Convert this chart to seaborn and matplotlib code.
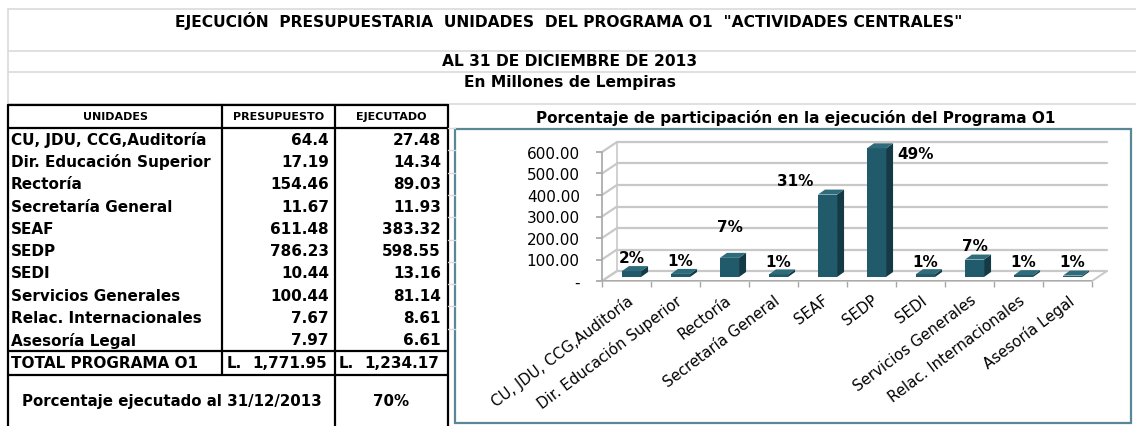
import numpy as np
import pandas as pd
import matplotlib
matplotlib.use("Agg")
import matplotlib.pyplot as plt
import seaborn as sns
from matplotlib.patches import Polygon, Rectangle

# ---------------- data ----------------
units = ["CU, JDU, CCG,Auditoría", "Dir. Educación Superior", "Rectoría",
         "Secretaría General", "SEAF", "SEDP", "SEDI", "Servicios Generales",
         "Relac. Internacionales", "Asesoría Legal"]
presupuesto = [64.4, 17.19, 154.46, 11.67, 611.48, 786.23, 10.44, 100.44, 7.67, 7.97]
ejecutado = [27.48, 14.34, 89.03, 11.93, 383.32, 598.55, 13.16, 81.14, 8.61, 6.61]
total_presupuesto = 1771.95
total_ejecutado = 1234.17
pct_ejecutado = "70%"
pct_labels = ["2%", "1%", "7%", "1%", "31%", "49%", "1%", "7%", "1%", "1%"]
y_ticks = [0, 100, 200, 300, 400, 500, 600]
y_tick_labels = ["-", "100.00", "200.00", "300.00", "400.00", "500.00", "600.00"]

title1 = 'EJECUCIÓN  PRESUPUESTARIA  UNIDADES  DEL PROGRAMA O1  "ACTIVIDADES CENTRALES"'
title2 = "AL 31 DE DICIEMBRE DE 2013"
title3 = "En Millones de Lempiras"
headers = ["UNIDADES", "PRESUPUESTO", "EJECUTADO"]
total_label = "TOTAL PROGRAMA O1"
pct_row_label = "Porcentaje ejecutado al 31/12/2013"
chart_title = "Porcentaje de participación en la ejecución del Programa O1"

# ---------------- layout / style ----------------
W, H = 1136, 427
FRONT = "#215A6A"
SIDE = "#143A45"
TOP = "#2E6C7C"
GRID = "#C8C8C8"
SHEET = "#DADADA"
FRAME = "#5A8795"
AXC = "#A6A6A6"

sns.set_theme(style="white")
plt.rcParams["font.family"] = ["DejaVu Sans"]
plt.rcParams["text.color"] = "black"
plt.rcParams["xtick.color"] = "black"
plt.rcParams["ytick.color"] = "black"
plt.rcParams["xtick.labelcolor"] = "black"
plt.rcParams["ytick.labelcolor"] = "black"

fig = plt.figure(figsize=(W / 100, H / 100), dpi=100)
fig.patch.set_facecolor("white")

bg = fig.add_axes([0, 0, 1, 1])
bg.set_xlim(0, W)
bg.set_ylim(H, 0)
bg.axis("off")

# spreadsheet gridlines
for yy in [10, 52, 73, 105]:
    bg.plot([8, W], [yy, yy], color=SHEET, lw=1.2)
bg.plot([8, 8], [10, 106], color=SHEET, lw=1.2)

# titles
bg.text(569, 21, title1, ha="center", va="center", fontsize=11.2, fontweight="bold", color="black")
bg.text(570, 62, title2, ha="center", va="center", fontsize=11.2, fontweight="bold", color="black")
bg.text(570, 83, title3, ha="center", va="center", fontsize=11.2, fontweight="bold", color="black")

# ---------------- table ----------------
x0, x1, x2, x3 = 8, 222, 335, 448
y_head_top, y_head_bot = 106, 129
row_h = 22.3
y_total_top = y_head_bot + row_h * len(units)
y_total_bot = y_total_top + 24
y_bottom = H

lw_b = 1.6
for yy in [y_head_top, y_head_bot, y_total_top, y_total_bot]:
    bg.plot([x0, x3], [yy, yy], color="black", lw=lw_b)
for xx in [x0, x2, x3]:
    bg.plot([xx, xx], [y_head_top, y_bottom], color="black", lw=lw_b)
bg.plot([x1, x1], [y_head_top, y_total_bot], color="black", lw=lw_b)

hc = (y_head_top + y_head_bot) / 2
for txt, cx in zip(headers, [(x0 + x1) / 2, (x1 + x2) / 2, (x2 + x3) / 2]):
    bg.text(cx, hc, txt, ha="center", va="center", fontsize=8, fontweight="bold", color="black")

FS = 11
for i, (u, p, e) in enumerate(zip(units, presupuesto, ejecutado)):
    yc = y_head_bot + row_h * (i + 0.5)
    bg.text(x0 + 3, yc, u, ha="left", va="center", fontsize=FS, fontweight="bold", color="black")
    bg.text(x2 - 6, yc, f"{p:g}", ha="right", va="center", fontsize=FS, fontweight="bold", color="black")
    bg.text(x3 - 7, yc, f"{e:g}", ha="right", va="center", fontsize=FS, fontweight="bold", color="black")
    bg.plot([x3, 455], [y_head_bot + row_h * i, y_head_bot + row_h * i], color=SHEET, lw=1)

tc = (y_total_top + y_total_bot) / 2
bg.text(x0 + 3, tc, total_label, ha="left", va="center", fontsize=FS, fontweight="bold", color="black")
bg.text(x1 + 5, tc, "L.", ha="left", va="center", fontsize=FS, fontweight="bold", color="black")
bg.text(x2 - 8, tc, f"{total_presupuesto:,.2f}", ha="right", va="center", fontsize=FS, fontweight="bold", color="black")
bg.text(x2 + 4, tc, "L.", ha="left", va="center", fontsize=FS, fontweight="bold", color="black")
bg.text(x3 - 9, tc, f"{total_ejecutado:,.2f}", ha="right", va="center", fontsize=FS, fontweight="bold", color="black")

pc = (y_total_bot + y_bottom) / 2
bg.text((x0 + x2) / 2, pc, pct_row_label, ha="center", va="center", fontsize=10.8, fontweight="bold", color="black")
bg.text((x2 + x3) / 2, pc, pct_ejecutado, ha="center", va="center", fontsize=10.8, fontweight="bold", color="black")

# ---------------- chart ----------------
bg.add_patch(Rectangle((455, 130), 1131 - 455, 424 - 130, fill=False, edgecolor=FRAME, lw=1.6))
bg.text(796, 118, chart_title, ha="center", va="center", fontsize=11, fontweight="bold", color="black")

ax_l, ax_r, ax_b, ax_t = 602, 1092, 282, 153
ax = fig.add_axes([ax_l / W, (H - ax_b) / H, (ax_r - ax_l) / W, (ax_b - ax_t) / H])
ax.patch.set_alpha(0)
df = pd.DataFrame({"unit": units, "ejecutado": ejecutado})
sns.barplot(data=df, x="unit", y="ejecutado", color=FRONT, saturation=1, width=0.39,
            edgecolor="none", ax=ax, zorder=3)
ax.set_xlim(-0.5, len(units) - 0.5)
ax.set_ylim(0, 600)

sx = len(units) / (ax_r - ax_l)
sy = 600 / (ax_b - ax_t)
wall = (15 * sx, 10 * sy)
boff = (5 * sx, 4 * sy)
bdep = (7 * sx, 5 * sy)

xl, xr = -0.5, len(units) - 0.5
ax.add_patch(Polygon([(xl, 0), (xr, 0), (xr + wall[0], wall[1]), (xl + wall[0], wall[1])],
                     closed=True, facecolor="white", edgecolor=GRID, lw=1.4, clip_on=False, zorder=1))
for v in y_ticks:
    ax.plot([xl, xl + wall[0]], [v, v + wall[1]], color=GRID, lw=1.6, clip_on=False, zorder=1)
    ax.plot([xl + wall[0], xr + wall[0]], [v + wall[1], v + wall[1]], color=GRID, lw=1.6,
            clip_on=False, zorder=1)
ax.plot([xl + wall[0], xl + wall[0]], [wall[1], 600 + wall[1]], color=GRID, lw=1.2, clip_on=False, zorder=1)

bars = [p for p in ax.patches if isinstance(p, Rectangle)][:len(units)]
for p in bars:
    p.set_clip_on(False)
    p.set_x(p.get_x() + boff[0])
    p.set_y(p.get_y() + boff[1])
    bx0, bx1 = p.get_x(), p.get_x() + p.get_width()
    by0, by1 = p.get_y(), p.get_y() + p.get_height()
    ax.add_patch(Polygon([(bx1, by0), (bx1 + bdep[0], by0 + bdep[1]), (bx1 + bdep[0], by1 + bdep[1]), (bx1, by1)],
                         closed=True, facecolor=SIDE, edgecolor="none", clip_on=False, zorder=3))
    ax.add_patch(Polygon([(bx0, by1), (bx1, by1), (bx1 + bdep[0], by1 + bdep[1]), (bx0 + bdep[0], by1 + bdep[1])],
                         closed=True, facecolor=TOP, edgecolor="none", clip_on=False, zorder=3))

label_offsets = [(0, 14), (0, 13), (0, 31), (0, 13), (-32, 14), (39, -5), (0, 13), (0, 14), (0, 14), (0, 14)]
for i, (p, lbl) in enumerate(zip(bars, pct_labels)):
    cx = p.get_x() + p.get_width() / 2
    top = p.get_y() + p.get_height()
    ax.annotate(lbl, xy=(cx, top), xytext=label_offsets[i], textcoords="offset pixels",
                ha="center", va="center", fontsize=11, fontweight="bold", color="black",
                zorder=5, annotation_clip=False)

for s in ["top", "right", "bottom"]:
    ax.spines[s].set_visible(False)
ax.spines["left"].set_color(AXC)
ax.spines["left"].set_linewidth(1.2)
ax.set_yticks(y_ticks)
ax.set_yticklabels(y_tick_labels, fontsize=11)
ax.tick_params(axis="y", length=4, color=AXC, pad=12, left=True, labelcolor="black")
ax.set_xticks(range(len(units)))
ax.set_xticklabels(units, rotation=37, ha="right", rotation_mode="anchor", fontsize=10.8)
ax.set_xticks(np.arange(-0.5, len(units), 1), minor=True)
ax.tick_params(axis="x", which="major", length=0, pad=8, labelcolor="black")
ax.tick_params(axis="x", which="minor", length=4, color=AXC, bottom=True)
ax.axhline(0, color=AXC, lw=1.2, zorder=2)
ax.set_xlabel("")
ax.set_ylabel("")
ax.grid(False)

fig.savefig("out.png", dpi=100, facecolor="white")
